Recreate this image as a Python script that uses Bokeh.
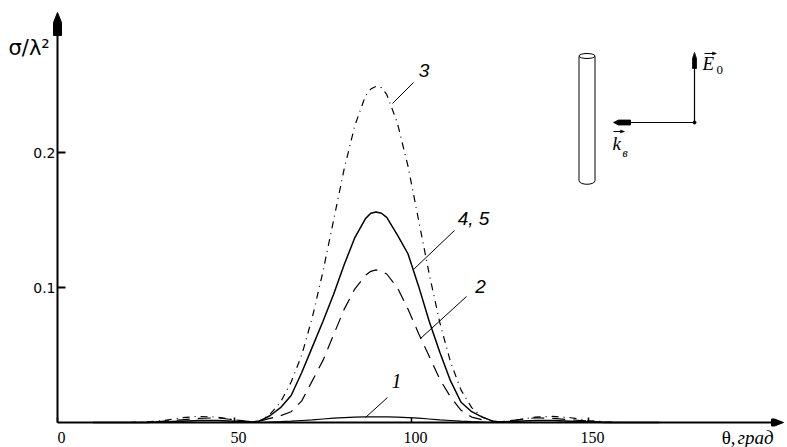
import numpy as np
from bokeh.plotting import figure
from bokeh.models import Label, Range1d
from bokeh.core.properties import value
from bokeh.embed import file_html
from bokeh.resources import INLINE

# ---------------- data ----------------
theta = [10, 15, 20, 25, 30, 35, 40, 45, 50, 55,
         57, 60, 63, 66, 69, 72, 75, 78, 81, 84, 87, 88.5, 90, 91.5, 93, 96, 99, 102, 105, 108, 111, 114,
         117, 120, 123,
         125, 130, 135, 140, 145, 150, 155, 160, 165, 170]

sigma_1 = [0, 0, 0, 0, 0, 0, 0, 0, 0, 0,
           0, 0.0003, 0.0006, 0.001, 0.0015, 0.002, 0.0026, 0.0032, 0.0036, 0.004, 0.0042, 0.0042, 0.0042,
           0.0042, 0.0042, 0.004, 0.0036, 0.0032, 0.0026, 0.002, 0.0015, 0.001, 0.0006, 0.0003, 0,
           0, 0, 0, 0, 0, 0, 0, 0, 0, 0]

sigma_2 = [0, 0, 0, 0, 0.001, 0.002, 0.003, 0.0035, 0.002, 0.0005,
           0.001, 0.003, 0.005, 0.008, 0.016, 0.031, 0.046, 0.065, 0.084, 0.099, 0.109, 0.112, 0.113,
           0.112, 0.110, 0.100, 0.084, 0.066, 0.049, 0.032, 0.019, 0.009, 0.004, 0.002, 0.001,
           0.0005, 0.002, 0.0035, 0.003, 0.002, 0.001, 0, 0, 0, 0]

sigma_3 = [0, 0, 0, 0.0005, 0.0015, 0.0035, 0.0045, 0.004, 0.002, 0.0005,
           0.001, 0.006, 0.015, 0.030, 0.050, 0.078, 0.112, 0.150, 0.188, 0.220, 0.242, 0.247, 0.249,
           0.248, 0.243, 0.222, 0.190, 0.150, 0.110, 0.074, 0.045, 0.024, 0.011, 0.004, 0.001,
           0.0005, 0.002, 0.004, 0.0045, 0.0035, 0.0015, 0.0005, 0, 0, 0]

sigma_45 = [0, 0, 0, 0, 0.0005, 0.001, 0.0015, 0.0015, 0.001, 0.0003,
            0.001, 0.005, 0.011, 0.020, 0.037, 0.056, 0.075, 0.095, 0.117, 0.137, 0.151, 0.155, 0.156,
            0.155, 0.152, 0.139, 0.125, 0.101, 0.075, 0.052, 0.031, 0.015, 0.008, 0.004, 0.001,
            0.0003, 0.001, 0.0015, 0.0015, 0.001, 0.0005, 0, 0, 0, 0]

x_ticks = [0, 50, 100, 150]
x_tick_labels = ["0", "50", "100", "150"]
y_ticks = [0.1, 0.2]
y_tick_labels = ["0.1", "0.2"]
curve_names = ["1", "2", "3", "4, 5"]
y_title = "σ/λ²"
x_title_a = "θ,"
x_title_b = "град"

# ---------------- layout (picture px -> data) ----------------
W, H = 787, 447
SX = 3.54      # px per degree
SY = 1350.0    # px per unit of sigma/lambda^2
ORIGIN_X, ORIGIN_Y = 57, 422   # picture px of the origin


def dx(px):
    return (px - ORIGIN_X) / SX


def dy(py):
    return (ORIGIN_Y - py) / SY


def ddx(px):
    return px / SX


def ddy(py):
    return py / SY


p = figure(width=W, height=H, output_backend="svg", toolbar_location=None,
           x_range=Range1d(dx(0), dx(W)), y_range=Range1d(dy(H), dy(0)),
           x_axis_location=None, y_axis_location=None,
           min_border_left=0, min_border_right=0, min_border_top=0, min_border_bottom=0)
p.outline_line_color = None
p.grid.visible = False
p.background_fill_color = "white"
p.border_fill_color = "white"

# ---------------- axes (drawn on the chart's own scales) ----------------
X_AXIS_END = dx(774)
Y_AXIS_END = dy(22)
p.segment(x0=[0, 0], y0=[0, 0], x1=[X_AXIS_END, 0], y1=[0, Y_AXIS_END], line_color="black", line_width=2)
# ticks (inside)
p.segment(x0=x_ticks, y0=[0] * len(x_ticks), x1=x_ticks, y1=[ddy(5)] * len(x_ticks),
          line_color="black", line_width=1.5)
p.segment(x0=[0] * len(y_ticks), y0=y_ticks, x1=[ddx(8)] * len(y_ticks), y1=y_ticks,
          line_color="black", line_width=2)
# tick labels
p.text(x=[t + ddx(4) for t in x_ticks], y=[dy(437)] * len(x_ticks), text=x_tick_labels,
       text_align="center", text_baseline="middle", text_font=value("Liberation Serif"),
       text_font_size=value("16px"), text_color="black")
p.text(x=[dx(55)] * len(y_ticks), y=y_ticks, text=y_tick_labels,
       text_align="right", text_baseline="middle", text_font=value("DejaVu Sans"),
       text_font_size=value("14px"), text_color="black")
# arrow heads of the axes
y_head = [(57, 12), (61, 22), (61, 35), (53, 35), (53, 22)]
x_head = [(783, 422), (774, 418.5), (771, 418.5), (771, 425.5), (774, 425.5)]
p.patches(xs=[[dx(h[0]) for h in y_head], [dx(h[0]) for h in x_head]],
          ys=[[dy(h[1]) for h in y_head], [dy(h[1]) for h in x_head]],
          fill_color="black", line_color="black", line_width=1)

# axis titles
p.add_layout(Label(x=dx(8), y=dy(47), text=y_title, text_align="left", text_baseline="middle",
                   text_font="DejaVu Sans", text_font_size="21px", text_color="black"))
p.add_layout(Label(x=dx(735), y=dy(437), text=x_title_a, text_align="right", text_baseline="middle",
                   text_font="Liberation Serif", text_font_size="19px", text_color="black"))
p.add_layout(Label(x=dx(737), y=dy(437), text=x_title_b, text_align="left", text_baseline="middle",
                   text_font="Liberation Serif", text_font_style="italic", text_font_size="19px",
                   text_color="black"))

# ---------------- curves ----------------
p.line(theta, sigma_1, line_color="black", line_width=1.2)
p.line(theta, sigma_2, line_color="black", line_width=1.2, line_dash="13 8")
p.line(theta, sigma_3, line_color="black", line_width=1.2, line_dash="7 5 1 5")
p.line(theta, sigma_45, line_color="black", line_width=1.5)

# ---------------- leaders & curve labels ----------------
leaders = [((387, 397), (365, 417)),
           ((466, 296), (420, 338)),
           ((413, 82), (392, 103)),
           ((454, 230), (413, 269))]
label_pos = [(396, 380), (480, 286), (423.5, 69.5), (473, 218)]
for (a, b) in leaders:
    p.segment(x0=dx(a[0]), y0=dy(a[1]), x1=dx(b[0]), y1=dy(b[1]), line_color="black", line_width=1)
for name, (lx, ly) in zip(curve_names, label_pos):
    serif = name == "1"
    p.add_layout(Label(x=dx(lx), y=dy(ly), text=name, text_align="center", text_baseline="middle",
                       text_font="Liberation Serif" if serif else "Liberation Sans",
                       text_font_style="italic", text_font_size="20px" if serif else "19px",
                       text_color="black"))

# ---------------- inset: cylinder and field vectors ----------------
p.segment(x0=[dx(578.5), dx(594.5)], y0=[dy(56), dy(56)], x1=[dx(578.5), dx(594.5)], y1=[dy(180), dy(180)],
          line_color="black", line_width=1)
p.ellipse(x=dx(586.5), y=dy(55.5), width=16, height=5, width_units="screen", height_units="screen",
          fill_color=None, line_color="black", line_width=1)
p.bezier(x0=dx(578.5), y0=dy(180), x1=dx(594.5), y1=dy(180),
         cx0=dx(578.5), cy0=dy(185), cx1=dx(594.5), cy1=dy(185), line_color="black", line_width=1)

p.segment(x0=dx(694), y0=dy(122), x1=dx(694), y1=dy(60), line_color="black", line_width=1.2)
p.segment(x0=dx(694), y0=dy(122), x1=dx(622), y1=dy(122), line_color="black", line_width=1.2)
e_head = [(694, 52), (696, 58), (696, 68), (692, 68), (692, 58)]
k_head = [(613, 122), (618, 119.5), (630, 119.5), (630, 124.5), (618, 124.5)]
p.patches(xs=[[dx(h[0]) for h in e_head], [dx(h[0]) for h in k_head]],
          ys=[[dy(h[1]) for h in e_head], [dy(h[1]) for h in k_head]],
          fill_color="black", line_color="black", line_width=0.8)
p.scatter(x=[dx(694)], y=[dy(122)], size=3, color="black")

# small vector arrows over E and k
p.segment(x0=[dx(704), dx(613)], y0=[dy(53), dy(131)], x1=[dx(714), dx(622)], y1=[dy(53), dy(131)],
          line_color="black", line_width=1)
p.patches(xs=[[dx(716), dx(712), dx(712)], [dx(624), dx(620), dx(620)]],
          ys=[[dy(53), dy(51.5), dy(54.5)], [dy(131), dy(129.5), dy(132.5)]],
          fill_color="black", line_color="black", line_width=0.5)

p.add_layout(Label(x=dx(702), y=dy(63), text="E", text_align="left", text_baseline="middle",
                   text_font="Liberation Serif", text_font_style="italic", text_font_size="19px",
                   text_color="black"))
p.add_layout(Label(x=dx(716), y=dy(69), text="0", text_align="left", text_baseline="middle",
                   text_font="Liberation Serif", text_font_size="13px", text_color="black"))
p.add_layout(Label(x=dx(612), y=dy(143), text="k", text_align="left", text_baseline="middle",
                   text_font="Liberation Serif", text_font_style="italic", text_font_size="19px",
                   text_color="black"))
p.add_layout(Label(x=dx(622), y=dy(152), text="в", text_align="left", text_baseline="middle",
                   text_font="Liberation Serif", text_font_style="italic", text_font_size="12px",
                   text_color="black"))

open("out.html", "w").write(file_html(p, INLINE))
